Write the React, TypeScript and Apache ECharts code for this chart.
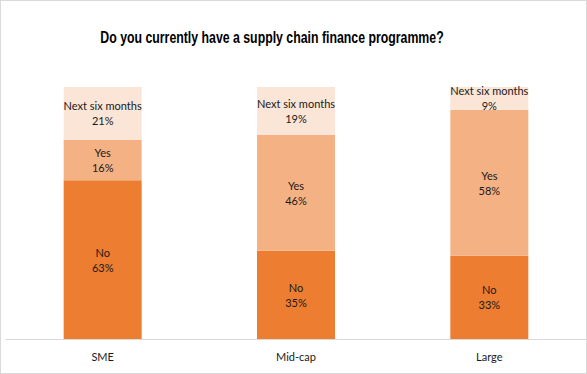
import React, { useEffect, useRef } from "react";
import * as echarts from "echarts";

const categories = ["SME", "Mid-cap", "Large"];
const noValues = [63, 35, 33];
const yesValues = [16, 46, 58];
const nextValues = [21, 19, 9];
const seriesNames = ["No", "Yes", "Next six months"];
const colors = ["#ED7D31", "#F4B183", "#FBE5D6"];
const titleText = "Do you currently have a supply chain finance programme?";

export default function App() {
  const ref = useRef<HTMLDivElement>(null);
  useEffect(() => {
    if (!ref.current) return;
    const chart = echarts.init(ref.current, null, { renderer: "svg" });
    const font = "Lato";
    const mk = (name: string, data: number[], color: string) => ({
      name,
      type: "bar",
      stack: "total",
      barWidth: 78,
      data,
      itemStyle: { color },
      label: {
        show: true,
        position: "inside",
        formatter: (p: any) => `${p.seriesName}\n${p.value}%`,
        color: "#1a1a1a",
        fontFamily: font,
        fontSize: 11,
        lineHeight: 15,
      },
    });
    chart.setOption({
      animation: false,
      graphic: [
        {
          type: "text",
          x: 271,
          y: 36,
          scaleX: 0.77,
          style: {
            text: titleText,
            x: 0,
            y: 0,
            align: "center",
            verticalAlign: "middle",
            fontFamily: "Liberation Sans",
            fontWeight: "bold",
            fontSize: 16,
            fill: "#000",
          },
        },
      ],
      grid: { left: 5, right: 0, top: 86, bottom: 34 },
      xAxis: {
        type: "category",
        data: categories,
        axisLine: { lineStyle: { color: "#d9d9d9" } },
        axisTick: { show: false },
        axisLabel: { color: "#1a1a1a", fontFamily: font, fontSize: 11, margin: 12 },
      },
      yAxis: { type: "value", min: 0, max: 100, show: false },
      series: [
        mk(seriesNames[0], noValues, colors[0]),
        mk(seriesNames[1], yesValues, colors[1]),
        mk(seriesNames[2], nextValues, colors[2]),
      ],
    });
    return () => chart.dispose();
  }, []);
  return (
    <div
      style={{
        position: "absolute",
        left: 0,
        top: 0,
        width: 587,
        height: 374,
        boxSizing: "border-box",
        border: "1px solid #d9d9d9",
        background: "#fff",
      }}
    >
      <div ref={ref} style={{ width: 585, height: 372 }} />
    </div>
  );
}
